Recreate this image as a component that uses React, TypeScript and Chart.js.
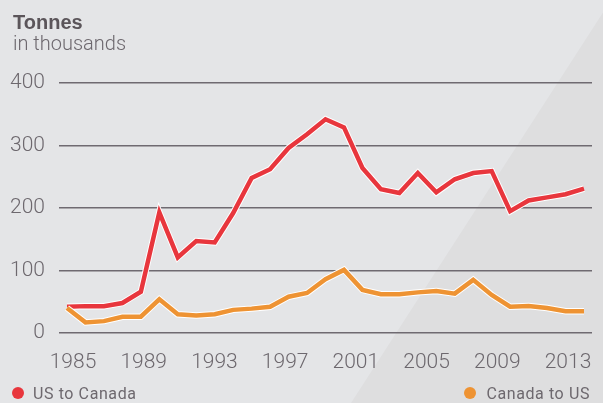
import React, { useEffect, useRef } from 'react';
import { Chart, registerables } from 'chart.js';

Chart.register(...registerables);

const years = [1985, 1986, 1987, 1988, 1989, 1990, 1991, 1992, 1993, 1994, 1995, 1996, 1997, 1998, 1999, 2000, 2001, 2002, 2003, 2004, 2005, 2006, 2007, 2008, 2009, 2010, 2011, 2012, 2013];
const usToCanada = [42, 43, 43, 48, 66, 193, 121, 147, 145, 192, 248, 262, 296, 318, 342, 329, 264, 230, 224, 256, 225, 246, 256, 259, 195, 212, 217, 222, 231];
const canadaToUs = [40, 17, 19, 26, 26, 54, 30, 28, 30, 37, 39, 42, 58, 64, 86, 101, 69, 62, 62, 65, 67, 63, 85, 61, 42, 43, 40, 35, 35];
const xTickYears = [1985, 1989, 1993, 1997, 2001, 2005, 2009, 2013];
const yTicks = [0, 100, 200, 300, 400];
const seriesNames = ['US to Canada', 'Canada to US'];

const RED = '#e8363d';
const ORANGE = '#ee9333';
const TEXT = '#6d686e';
const GRID = '#6f6a71';
const LIGHT_FONT = 'Roboto, "Liberation Sans", sans-serif';

export default function App() {
  const ref = useRef<HTMLCanvasElement>(null);

  useEffect(() => {
    document.body.style.margin = '0';
    const bg = {
      id: 'bg',
      beforeDraw(chart: any) {
        const { ctx, width, height } = chart;
        ctx.save();
        ctx.fillStyle = '#e4e5e7';
        ctx.fillRect(0, 0, width, height);
        ctx.fillStyle = '#dededf';
        ctx.beginPath();
        ctx.moveTo(611, 0);
        ctx.lineTo(width + 20, 0);
        ctx.lineTo(width + 20, height);
        ctx.lineTo(351, height);
        ctx.closePath();
        ctx.fill();
        ctx.restore();
      },
    };
    const pts = (arr: number[]) => arr.map((v, i) => ({ x: years[i], y: v }));
    const common = { pointRadius: 0, tension: 0, fill: false, borderJoinStyle: 'miter' as const, borderCapStyle: 'butt' as const };
    const chart = new Chart(ref.current as HTMLCanvasElement, {
      type: 'line',
      data: {
        datasets: [
          { ...common, label: seriesNames[1], data: pts(canadaToUs), borderColor: ORANGE, borderWidth: 4.5, order: 0 },
          { ...common, label: seriesNames[1] + ' outline', data: pts(canadaToUs), borderColor: '#ffffff', borderWidth: 6.5, order: 1 },
          { ...common, label: seriesNames[0], data: pts(usToCanada), borderColor: RED, borderWidth: 4.5, order: 2 },
          { ...common, label: seriesNames[0] + ' outline', data: pts(usToCanada), borderColor: '#ffffff', borderWidth: 6.5, order: 3 },
        ],
      },
      options: {
        animation: false,
        responsive: false,
        maintainAspectRatio: false,
        layout: { padding: { left: 0, right: 11, top: 83, bottom: 0 } },
        plugins: { legend: { display: false }, tooltip: { enabled: false } },
        scales: {
          x: { type: 'linear', display: false, min: 1984.567, max: 2013.433 },
          xt: {
            type: 'linear',
            position: 'bottom',
            min: 1984.208,
            max: 2014.358,
            grid: { display: false },
            border: { display: false },
            afterBuildTicks: (s: any) => { s.ticks = xTickYears.map((v) => ({ value: v })); },
            afterFit: (s: any) => { s.height = 70; },
            ticks: {
              color: TEXT,
              font: { family: LIGHT_FONT, size: 21, weight: '300' as any },
              padding: 9,
              maxRotation: 0,
              autoSkip: false,
              callback: (v: any) => String(v),
            },
          },
          y: {
            min: 0,
            max: 400,
            afterBuildTicks: (s: any) => { s.ticks = yTicks.map((v) => ({ value: v })); },
            afterFit: (s: any) => { s.width = 59; },
            grid: { color: GRID, lineWidth: 1.5, drawTicks: false },
            border: { display: false },
            ticks: {
              color: TEXT,
              font: { family: LIGHT_FONT, size: 21, weight: '300' as any },
              padding: 14,
              callback: (v: any) => String(v),
            },
          },
        },
      } as any,
      plugins: [bg],
    });
    return () => chart.destroy();
  }, []);

  const legendText: React.CSSProperties = {
    position: 'absolute', top: 386, font: `400 16px ${LIGHT_FONT}`, lineHeight: '16px', color: TEXT, letterSpacing: '0.6px', whiteSpace: 'nowrap',
  };
  const dot = (c: string, left: number): React.CSSProperties => ({
    position: 'absolute', left, top: 387, width: 12, height: 12, borderRadius: 6, background: c,
  });

  return (
    <div style={{ position: 'absolute', left: 0, top: 0, width: 603, height: 403, overflow: 'hidden' }}>
      <canvas ref={ref} width={603} height={403} style={{ position: 'absolute', left: 0, top: 0 }} />
      <div style={{ position: 'absolute', left: 13, top: 12, font: 'bold 20px "Liberation Sans", sans-serif', lineHeight: '20px', color: '#5b555a' }}>Tonnes</div>
      <div style={{ position: 'absolute', left: 13, top: 33, font: `300 20px ${LIGHT_FONT}`, lineHeight: '20px', color: TEXT }}>in thousands</div>
      <div style={dot(RED, 12)} />
      <div style={{ ...legendText, left: 33 }}>{seriesNames[0]}</div>
      <div style={dot(ORANGE, 464)} />
      <div style={{ ...legendText, right: 13 }}>{seriesNames[1]}</div>
    </div>
  );
}
